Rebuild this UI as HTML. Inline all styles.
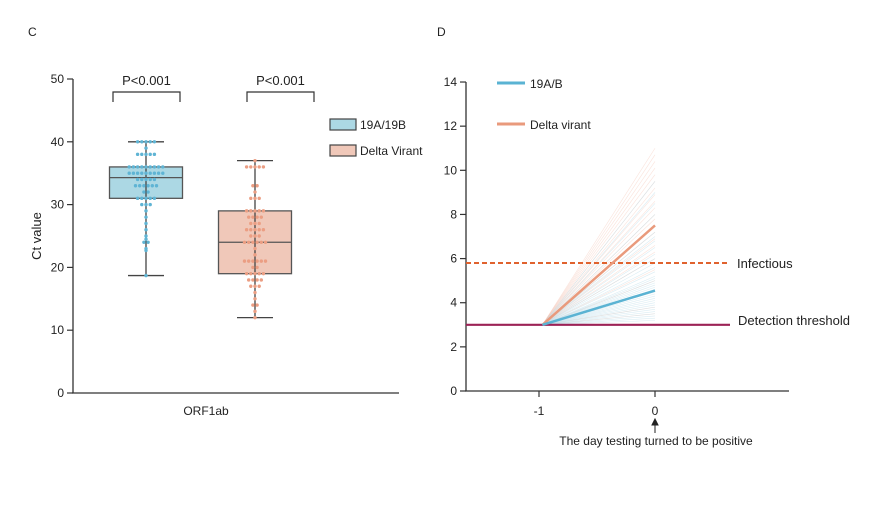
<!DOCTYPE html>
<html><head><meta charset="utf-8"><style>
body{margin:0;background:#fff;font-family:"Liberation Sans",Arial,sans-serif}
svg text{font-family:"Liberation Sans",Arial,sans-serif;fill:#222}
</style></head><body>
<svg id="s" width="888" height="500" viewBox="0 0 888 500">
<text x="28" y="36" font-size="12">C</text>
<text x="437" y="36" font-size="12">D</text>
<g id="left"></g>
<g id="right"></g>
</svg>
<script>
// ---------- Panel C data ----------
const groups = ["19A/19B","Delta Virant"];
const boxStats = [[18.7,31,34.3,36,40],[12,19,24,29,37]];
const blueDots = [40,40,40,40,40,39,38,38,38,38,38,36,36,36,36,36,36,36,36,36,35,35,35,35,35,35,35,35,35,34,34,34,34,34,33,33,33,33,33,33,32,32,31,31,31,31,31,30,30,30,29,28,27,26,25,24.5,24,24,23,22.7,18.7];
const orangeDots = [37,36,36,36,36,36,33,33,32,31,31,31,29,29,29,29,29,28,28,28,28,27,27,27,26,26,26,26,26,25,25,25,24,24,24,24,24,24,23,22,21,21,21,21,21,21,20,20,19,19,19,19,19,18,18,18,18,17,17,17,16,15,14,14,13,12];
const yTicksC = [0,10,20,30,40,50];
const pLabels = ["P<0.001","P<0.001"];
// ---------- Panel D data ----------
const yTicksD = [0,2,4,6,8,10,12,14];
const xTicksD = [-1,0];
const startDay = -0.97, endDay = 0, startVal = 3;
const blueEnds = [3.2,3.3,3.4,3.5,3.6,3.7,3.8,3.9,4.0,4.1,4.2,4.3,4.4,4.5,4.6,4.7,4.8,4.9,5.0,5.1,5.2,5.4,5.6,5.8,6.0,6.2,6.5,6.8,7.0,7.2,7.5,8.0,8.5,9.0,9.5];
const orangeEnds = [3.5,3.8,4.5,5.0,5.5,6.0,6.3,6.6,6.9,7.2,7.5,7.8,8.0,8.3,8.6,8.9,9.2,9.5,9.8,10.1,10.4,10.7,11.0];
const blueMean = 4.55, orangeMean = 7.5;
const infectious = 5.8, detection = 3;

const NS="http://www.w3.org/2000/svg";
function mk(p,tag,at,txt){const e=document.createElementNS(NS,tag);for(const k in at)e.setAttribute(k,at[k]);if(txt!=null)e.textContent=txt;p.appendChild(e);return e;}
const L=document.getElementById('left'), R=document.getElementById('right');

const yC=v=>393-v*6.28;
const ax='#333';
let e;
e=mk(L,'line',{x1:73,y1:yC(50),x2:73,y2:393.5,stroke:ax,'stroke-width':1.3});


e=mk(L,'line',{x1:72,y1:393,x2:399,y2:393,stroke:ax,'stroke-width':1.3});


yTicksC.forEach(t=>{
  e=mk(L,'line',{x1:67,y1:yC(t),x2:73,y2:yC(t),stroke:ax,'stroke-width':1.2});
  
  
  e=mk(L,'text',{x:64,y:yC(t)+4,'font-size':12,'text-anchor':'end'},t);
  
  
});
e=mk(L,'text',{x:41,y:236,'font-size':13,'text-anchor':'middle',transform:'rotate(-90 41 236)'},'Ct value');


e=mk(L,'text',{x:206,y:415,'font-size':12,'text-anchor':'middle'},'ORF1ab');



const centers=[146,255], fills=['#acd8e4','#f0c8b9'], dotCol=['#5fb4d4','#eb9e83'], halfW=36.5;
const dots=[blueDots,orangeDots];
groups.forEach((g,i)=>{
  const [mn,q1,md,q3,mx]=boxStats[i], c=centers[i];
  e=mk(L,'rect',{x:c-halfW,y:yC(q3),width:halfW*2,height:yC(q1)-yC(q3),fill:fills[i],stroke:'#555','stroke-width':1.3});
  
  
  e=mk(L,'line',{x1:c,y1:yC(mx),x2:c,y2:yC(mn),stroke:'#444','stroke-width':1.3});
  
  
  [mn,mx].forEach(v=>{e=mk(L,'line',{x1:c-18,y1:yC(v),x2:c+18,y2:yC(v),stroke:'#444','stroke-width':1.3});
    
    });
  e=mk(L,'line',{x1:c-halfW,y1:yC(md),x2:c+halfW,y2:yC(md),stroke:'#555','stroke-width':1.3});
  
  
  const cnt={};dots[i].forEach(v=>{cnt[v]=(cnt[v]||0)+1;});
  const seen={};
  dots[i].forEach(v=>{const n=cnt[v];const k=seen[v]=(seen[v]||0)+1;
    const dx=(k-1-(n-1)/2)*4.2;
    e=mk(L,'circle',{cx:c+dx,cy:yC(v),r:1.7,fill:dotCol[i]});
    
    });
  const bx1=113+i*134, bx2=180+i*134;
  e=mk(L,'path',{d:`M${bx1} 102V92H${bx2}V102`,fill:'none',stroke:'#333','stroke-width':1.2});
  
  
  e=mk(L,'text',{x:(bx1+bx2)/2,y:85,'font-size':13,'text-anchor':'middle'},pLabels[i]);
  
  
  e=mk(L,'rect',{x:330,y:119+i*26,width:26,height:11,fill:fills[i],stroke:'#444','stroke-width':1.2});
  
  
  e=mk(L,'text',{x:360,y:129+i*26,'font-size':12},groups[i]);
  
  
});

const yD=v=>391-v*22.07;
const xD=d=>655+d*116;
e=mk(R,'line',{x1:466,y1:yD(14),x2:466,y2:391.5,stroke:ax,'stroke-width':1.3});


e=mk(R,'line',{x1:465,y1:391,x2:789,y2:391,stroke:ax,'stroke-width':1.3});


yTicksD.forEach(t=>{
  e=mk(R,'line',{x1:460,y1:yD(t),x2:466,y2:yD(t),stroke:ax,'stroke-width':1.2});
  
  
  e=mk(R,'text',{x:457,y:yD(t)+4,'font-size':12,'text-anchor':'end'},t);
  
  
});
xTicksD.forEach(t=>{
  e=mk(R,'line',{x1:xD(t),y1:391,x2:xD(t),y2:397,stroke:ax,'stroke-width':1.2});
  
  
  e=mk(R,'text',{x:xD(t),y:415,'font-size':12,'text-anchor':'middle'},t);
  
  
});
orangeEnds.forEach(v=>{e=mk(R,'line',{x1:xD(startDay),y1:yD(startVal),x2:xD(endDay),y2:yD(v),stroke:'#f2b9a6','stroke-width':0.6,opacity:0.4});
  
  });
blueEnds.forEach(v=>{e=mk(R,'line',{x1:xD(startDay),y1:yD(startVal),x2:xD(endDay),y2:yD(v),stroke:'#b6dbe8','stroke-width':0.6,opacity:0.5});
  
  });
e=mk(R,'line',{x1:466,y1:yD(infectious),x2:728,y2:yD(infectious),stroke:'#e0622e','stroke-width':2,'stroke-dasharray':'5 3'});


e=mk(R,'line',{x1:466,y1:yD(detection),x2:730,y2:yD(detection),stroke:'#9c2256','stroke-width':2.2});


e=mk(R,'line',{x1:xD(startDay),y1:yD(startVal),x2:xD(endDay),y2:yD(orangeMean),stroke:'#e99a7c','stroke-width':2.5});


e=mk(R,'line',{x1:xD(startDay),y1:yD(startVal),x2:xD(endDay),y2:yD(blueMean),stroke:'#5ab3d3','stroke-width':2.5});


e=mk(R,'text',{x:737,y:268,'font-size':13},'Infectious');


e=mk(R,'text',{x:738,y:325,'font-size':13},'Detection threshold');


e=mk(R,'line',{x1:497,y1:83,x2:525,y2:83,stroke:'#5ab3d3','stroke-width':3});


e=mk(R,'text',{x:530,y:88,'font-size':12},'19A/B');


e=mk(R,'line',{x1:497,y1:124,x2:525,y2:124,stroke:'#e99a7c','stroke-width':3});


e=mk(R,'text',{x:530,y:129,'font-size':12},'Delta virant');


e=mk(R,'path',{d:'M655 433V422M652 425L655 419L658 425Z',stroke:'#222','stroke-width':1,fill:'#222'});


e=mk(R,'text',{x:656,y:445,'font-size':12,'text-anchor':'middle'},'The day testing turned to be positive');


</script>
</body></html>
